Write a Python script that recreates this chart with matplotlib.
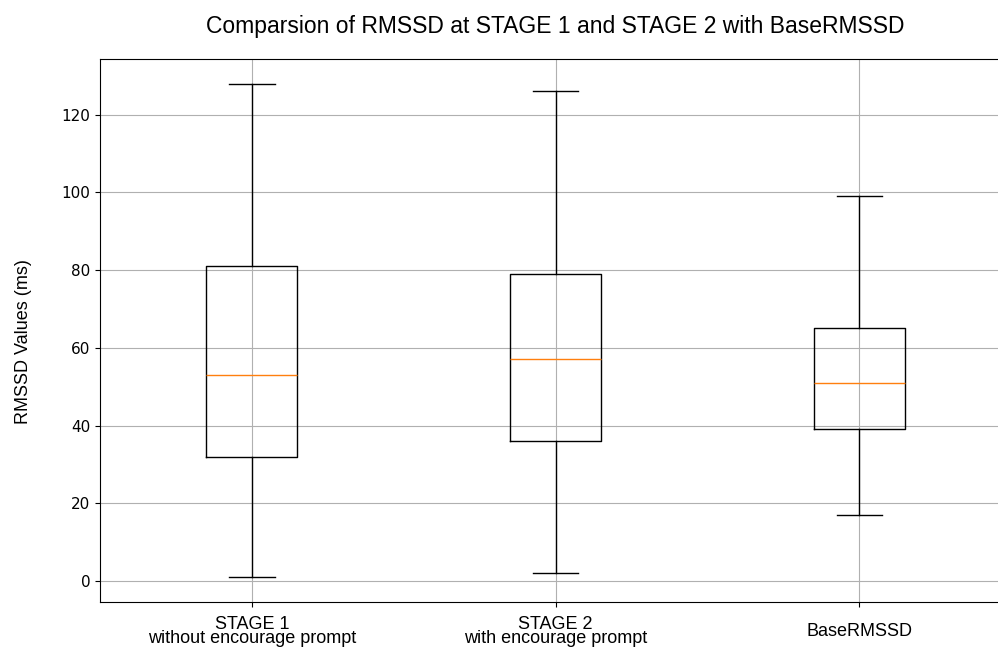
import matplotlib
matplotlib.use("Agg")
import matplotlib.pyplot as plt

# Five-number summaries (ms): whisker low, Q1, median, Q3, whisker high
labels = ["STAGE 1\nwithout encourage prompt",
          "STAGE 2\nwith encourage prompt",
          "BaseRMSSD"]
whislo = [1, 2, 17]
q1 = [32, 36, 39]
med = [53, 57, 51]
q3 = [81, 79, 65]
whishi = [128, 126, 99]

stats = [
    dict(whislo=lo, q1=a, med=m, q3=b, whishi=hi, fliers=[], label=lab)
    for lo, a, m, b, hi, lab in zip(whislo, q1, med, q3, whishi, labels)
]

fig = plt.figure(figsize=(9.98, 6.47), dpi=100)
ax = fig.add_axes([0.1002, 0.070, 0.913, 0.8388])

ax.bxp(stats, positions=[1, 2, 3], widths=0.3, showfliers=False)
ax.set_xlim(0.5, 3.5)
ax.set_yticks([0, 20, 40, 60, 80, 100, 120])
ax.grid(True)
ax.tick_params(axis="y", labelsize=11)
ax.tick_params(axis="x", pad=18)

arial = ["Liberation Sans", "DejaVu Sans"]
ax.set_title("Comparsion of RMSSD at STAGE 1 and STAGE 2 with BaseRMSSD",
             family=arial, fontsize=16.5, pad=18.5)
ax.set_ylabel("RMSSD Values (ms)", family=arial, fontsize=13, labelpad=21)
ax.yaxis.label.set_y(0.48)
for t in ax.get_xticklabels():
    t.set_family(arial)
    t.set_fontsize(13)
    t.set_linespacing(0.8)
    t.set_verticalalignment("center")

fig.savefig("out.png", dpi=100)
